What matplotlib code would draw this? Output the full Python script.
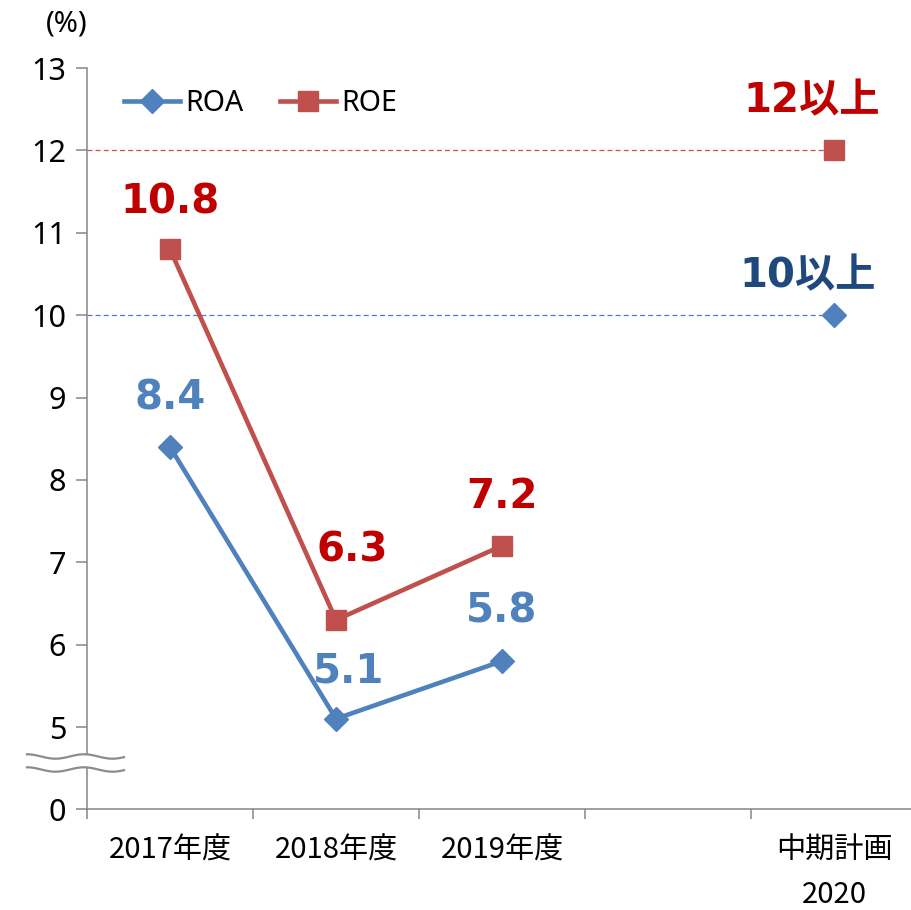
import numpy as np
import matplotlib
matplotlib.use("Agg")
from matplotlib import pyplot as plt
from matplotlib.patches import Polygon

# data
categories = ['2017年度', '2018年度', '2019年度', '', '中期計画\n2020']
roa = [8.4, 5.1, 5.8]
roe = [10.8, 6.3, 7.2]
roa_target = 10
roe_target = 12
roa_labels = ['8.4', '5.1', '5.8']
roe_labels = ['10.8', '6.3', '7.2']
roa_target_label = '10以上'
roe_target_label = '12以上'
ytick_vals = [4, 5, 6, 7, 8, 9, 10, 11, 12, 13]   # 4 stands for the broken 0
ytick_labels = ['0', '5', '6', '7', '8', '9', '10', '11', '12', '13']

c_roa = '#4F81BD'
c_roe = '#C0504D'
c_roa_txt = '#4F81BD'
c_roe_txt = '#C00000'
c_tgt_txt = '#1F497D'
c_axis = '#868686'

W, H = 911, 910
fig = plt.figure(figsize=(W / 100, H / 100), dpi=100)
ax = fig.add_axes([87 / W, (H - 809.4) / H, 830 / W, 741.4 / H])

x_act = np.arange(len(roa))
x_tgt = len(categories) - 1

ax.hlines(roe_target, -0.5, x_tgt, colors='#D04A48', linestyles=(0, (4, 2.5)), lw=0.9, zorder=2)
ax.hlines(roa_target, -0.5, x_tgt, colors='#4A7BD6', linestyles=(0, (4, 2.5)), lw=0.9, zorder=2)

ax.plot(x_act, roa, color=c_roa, lw=3.3, marker='D', ms=12.5, label='ROA', zorder=3)
ax.plot(x_act, roe, color=c_roe, lw=3.3, marker='s', ms=14, label='ROE', zorder=3)
ax.plot([x_tgt], [roa_target], color=c_roa, marker='D', ms=12.5, ls='none', zorder=3)
ax.plot([x_tgt], [roe_target], color=c_roe, marker='s', ms=14, ls='none', zorder=3)

lab_font = dict(fontsize=29, fontweight='bold', family=['DejaVu Sans', 'Noto Sans CJK JP'],
                ha='center', va='baseline', textcoords='offset pixels')
roa_off = [(0, 37), (13, 36), (0, 39)]
roe_off = [(0, 36), (16, 58), (0, 38)]
for i, (v, t) in enumerate(zip(roa, roa_labels)):
    ax.annotate(t, (x_act[i], v), xytext=roa_off[i], color=c_roa_txt, **lab_font)
for i, (v, t) in enumerate(zip(roe, roe_labels)):
    ax.annotate(t, (x_act[i], v), xytext=roe_off[i], color=c_roe_txt, **lab_font)
ax.annotate(roe_target_label, (x_tgt, roe_target), xytext=(-22, 38), color=c_roe_txt, **lab_font)
ax.annotate(roa_target_label, (x_tgt, roa_target), xytext=(-26, 28), color=c_tgt_txt, **lab_font)

ax.set_xlim(-0.5, len(categories) - 0.5)
ax.set_ylim(4, 13)
ax.set_xticks(np.arange(len(categories) + 1) - 0.5)
ax.set_xticklabels([])
ax.set_xticks(np.arange(len(categories)), minor=True)
ax.set_xticklabels(categories, minor=True, family='Noto Sans CJK JP', fontsize=21, linespacing=1.6)
ax.tick_params(axis='x', which='minor', length=0, pad=19)
ax.tick_params(axis='x', which='major', length=7.5, width=1.1, color=c_axis, direction='out')
ax.set_yticks(ytick_vals)
ax.set_yticklabels(ytick_labels, family='Noto Sans', fontsize=22)
ax.tick_params(axis='y', length=8, width=1.1, color=c_axis, direction='out', pad=7)

for s in ['top', 'right']:
    ax.spines[s].set_visible(False)
for s in ['left', 'bottom']:
    ax.spines[s].set_color(c_axis)
    ax.spines[s].set_linewidth(1.1)

leg = ax.legend(loc='center left', bbox_to_anchor=(0.0446, 0.9515), ncol=2, frameon=False,
                prop={'family': 'Noto Sans', 'size': 20.5}, handlelength=1.95, handletextpad=0.2,
                columnspacing=1.3, borderpad=0, borderaxespad=0)

fig.text(67 / W, 1 - 24 / H, '(%)', family='Noto Sans', fontsize=21, ha='center', va='center')

# axis break marks (pixel drawing, decoration only)
xs = np.linspace(27, 124, 80)
wave = 2.2 * np.cos(2 * np.pi * (xs - 27) / 57)
y1 = 756.5 - wave
y2 = 769.5 - wave
pts = np.concatenate([np.column_stack([xs, y1]), np.column_stack([xs[::-1], y2[::-1]])])
pts_fig = np.column_stack([pts[:, 0] / W, 1 - pts[:, 1] / H])
fig.patches.append(Polygon(pts_fig, closed=True, transform=fig.transFigure, facecolor='white',
                           edgecolor='none', zorder=5))
for yy in (y1, y2):
    fig.lines.append(plt.Line2D(xs / W, 1 - yy / H, transform=fig.transFigure, color='#8C8C8C',
                                lw=1.6, zorder=6))

fig.savefig('out.png', dpi=100)
